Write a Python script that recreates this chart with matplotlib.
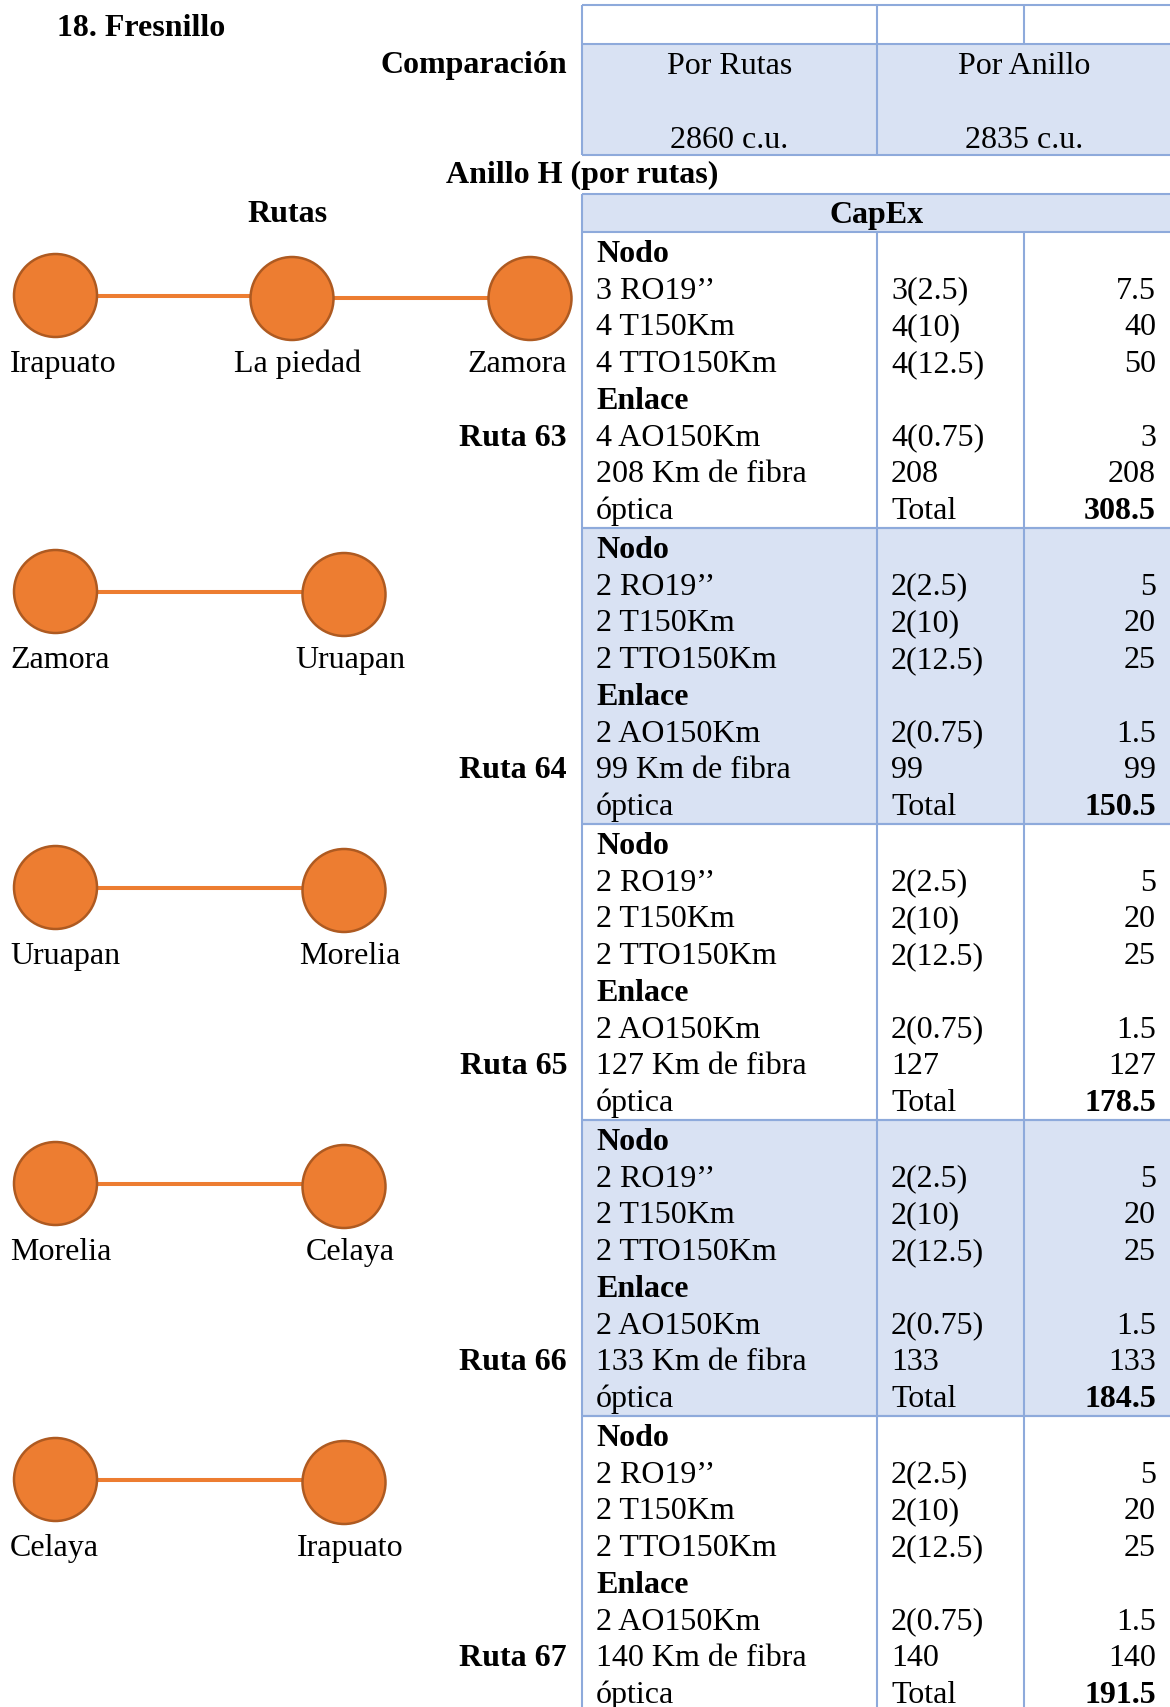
import matplotlib
matplotlib.use("Agg")
import matplotlib.pyplot as plt
from matplotlib.patches import Circle, Rectangle

# ---------------- data ----------------
title = "18. Fresnillo"
comparison_labels = ["Por Rutas", "Por Anillo"]
comparison_values = [2860, 2835]
route_names = ["Ruta 63", "Ruta 64", "Ruta 65", "Ruta 66", "Ruta 67"]
route_nodes = [["Irapuato", "La piedad", "Zamora"],
               ["Zamora", "Uruapan"],
               ["Uruapan", "Morelia"],
               ["Morelia", "Celaya"],
               ["Celaya", "Irapuato"]]
ro_qty = [3, 2, 2, 2, 2]
t_qty = [4, 2, 2, 2, 2]
tto_qty = [4, 2, 2, 2, 2]
ao_qty = [4, 2, 2, 2, 2]
fiber_km = [208, 99, 127, 133, 140]
ro_unit, t_unit, tto_unit, ao_unit = 2.5, 10, 12.5, 0.75
ro_cost = [7.5, 5, 5, 5, 5]
t_cost = [40, 20, 20, 20, 20]
tto_cost = [50, 25, 25, 25, 25]
ao_cost = [3, 1.5, 1.5, 1.5, 1.5]
fiber_cost = [208, 99, 127, 133, 140]
totals = [308.5, 150.5, 178.5, 184.5, 191.5]

# ---------------- style / layout ----------------
W, H = 1170, 1707
FS = 23
SERIF = ["Liberation Serif", "DejaVu Serif"]
FILL = "#D9E2F3"
BORDER = "#8EAADB"
ORANGE = "#ED7D31"
ORANGE_EDGE = "#AE5A21"

X_LEFT, X_DIV1, X_DIV2, X_RIGHT = 582, 877, 1024, 1172
COMP_Y = [5, 43.5, 154.5]
CAPEX_Y = [193.5, 231.5]
GROUP_TOP0 = 231.5
GROUP_H = 296
LINE_H = 36.7
FIRST_CENTER = 20
BASE_OFF = 10.5

fig = plt.figure(figsize=(W / 100, H / 100), dpi=100)
ax = fig.add_axes([0, 0, 1, 1])
ax.set_xlim(0, W)
ax.set_ylim(H, 0)
ax.axis("off")


def txt(x, y, s, ha="left", bold=False):
    ax.text(x, y, s, ha=ha, va="baseline", fontsize=FS, family=SERIF,
            fontweight="bold" if bold else "normal", color="black")


def hline(y, x0=X_LEFT, x1=X_RIGHT):
    ax.plot([x0, x1], [y, y], color=BORDER, lw=1.5, solid_capstyle="butt", zorder=3)


def vline(x, y0, y1):
    ax.plot([x, x], [y0, y1], color=BORDER, lw=1.5, solid_capstyle="butt", zorder=3)


def fmt(v):
    return f"{v:g}"


# ---------------- headings ----------------
txt(57, 36, title, bold=True)
txt(567, 73.5, "Comparación", ha="right", bold=True)
txt(582, 183, "Anillo H (por rutas)", ha="center", bold=True)
txt(288, 222.5, "Rutas", ha="center", bold=True)

# ---------------- comparison table ----------------
ax.add_patch(Rectangle((X_LEFT, COMP_Y[1]), X_RIGHT - X_LEFT, COMP_Y[2] - COMP_Y[1],
                       facecolor=FILL, edgecolor="none", zorder=1))
for y in COMP_Y:
    hline(y)
vline(X_LEFT, COMP_Y[0], COMP_Y[2])
vline(X_RIGHT, COMP_Y[0], COMP_Y[2])
vline(X_DIV1, COMP_Y[0], COMP_Y[2])
vline(X_DIV2, COMP_Y[0], COMP_Y[1])
cell_centers = [(X_LEFT + X_DIV1) / 2, (X_DIV1 + X_RIGHT) / 2]
for cx, lab, val in zip(cell_centers, comparison_labels, comparison_values):
    txt(cx, 73.5, lab, ha="center")
    txt(cx, 147.5, f"{val} c.u.", ha="center")

# ---------------- CapEx header ----------------
ax.add_patch(Rectangle((X_LEFT, CAPEX_Y[0]), X_RIGHT - X_LEFT, CAPEX_Y[1] - CAPEX_Y[0],
                       facecolor=FILL, edgecolor="none", zorder=1))
hline(CAPEX_Y[0])
vline(X_LEFT, CAPEX_Y[0], CAPEX_Y[1])
vline(X_RIGHT, CAPEX_Y[0], CAPEX_Y[1])
txt((X_LEFT + X_RIGHT) / 2, 223.5, "CapEx", bold=True, ha="center")

# ---------------- route groups ----------------
ruta_line = [5, 6, 6, 6, 6]
for g in range(len(route_names)):
    top = GROUP_TOP0 + g * GROUP_H
    bot = top + GROUP_H
    if g % 2 == 1:
        ax.add_patch(Rectangle((X_LEFT, top), X_RIGHT - X_LEFT, GROUP_H,
                               facecolor=FILL, edgecolor="none", zorder=1))
    hline(top)
    hline(bot)
    for x in (X_LEFT, X_DIV1, X_DIV2, X_RIGHT):
        vline(x, top, bot)

    rows = [
        ("Nodo", "", "", True, False),
        (f"{ro_qty[g]} RO19\u2019\u2019", f"{ro_qty[g]}({fmt(ro_unit)})", fmt(ro_cost[g]), False, False),
        (f"{t_qty[g]} T150Km", f"{t_qty[g]}({fmt(t_unit)})", fmt(t_cost[g]), False, False),
        (f"{tto_qty[g]} TTO150Km", f"{tto_qty[g]}({fmt(tto_unit)})", fmt(tto_cost[g]), False, False),
        ("Enlace", "", "", True, False),
        (f"{ao_qty[g]} AO150Km", f"{ao_qty[g]}({fmt(ao_unit)})", fmt(ao_cost[g]), False, False),
        (f"{fiber_km[g]} Km de fibra", f"{fiber_km[g]}", fmt(fiber_cost[g]), False, False),
        ("óptica", "Total", fmt(totals[g]), False, True),
    ]
    for i, (c1, c2, c3, b1, b3) in enumerate(rows):
        yb = top + FIRST_CENTER + i * LINE_H + BASE_OFF
        txt(596, yb, c1, bold=b1)
        if c2:
            txt(891, yb, c2)
        if c3:
            txt(1156, yb, c3, ha="right", bold=b3)

    # route label
    txt(567, top + FIRST_CENTER + ruta_line[g] * LINE_H + BASE_OFF,
        route_names[g], ha="right", bold=True)

    # route diagram
    nodes = route_nodes[g]
    xs = [55.5, 292, 530] if len(nodes) == 3 else [55.5, 344]
    ys = [top + 64] + [top + 67] * (len(nodes) - 1)
    r = 41.5
    for k in range(len(nodes) - 1):
        yl = ys[k] if k == 0 else ys[k] - 1
        ax.plot([xs[k] + r, xs[k + 1] - r], [yl, yl], color=ORANGE, lw=2.9,
                solid_capstyle="butt", zorder=2)
    for k, (nx, ny, name) in enumerate(zip(xs, ys, nodes)):
        ax.add_patch(Circle((nx, ny), r, facecolor=ORANGE, edgecolor=ORANGE_EDGE,
                            lw=1.8, zorder=4))
        ly = top + 130 + BASE_OFF
        if k == 0:
            txt(10, ly, name, ha="left")
        elif k == len(nodes) - 1 and len(nodes) == 3:
            txt(567, ly, name, ha="right")
        else:
            txt(nx + 6, ly, name, ha="center")

fig.savefig("out.png", dpi=100)
